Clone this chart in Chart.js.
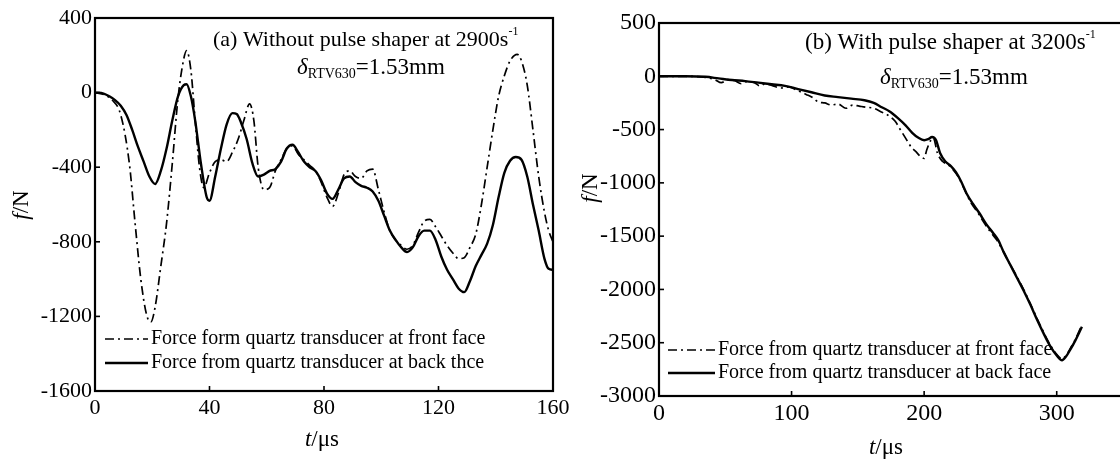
<!DOCTYPE html>
<html>
<head>
<meta charset="utf-8">
<script src="https://cdn.jsdelivr.net/npm/chart.js@4.4.1/dist/chart.umd.min.js"></script>
<style>
  html, body { margin: 0; padding: 0; background: #fff; overflow: hidden; }
  body { width: 1120px; height: 464px; position: relative; }
  canvas { position: absolute; top: 0; }
  #chartA { left: 0; }
  #chartB { left: 565px; }
</style>
</head>
<body>
<canvas id="chartA" width="590" height="464"></canvas>
<canvas id="chartB" width="572" height="464"></canvas>
<script>
// (a) without pulse shaper, t in us, f in N
const aFrontT = [0, 3, 6, 9, 12, 14, 16, 18, 19.5, 21, 23, 25, 27, 29, 31, 32, 33.5, 35, 36.5, 38, 40, 42, 44, 46, 48, 50, 52, 54, 55.5, 57, 59, 61, 63, 65, 67, 69, 71, 73, 75, 77, 79, 81, 83, 85, 87, 89, 91, 93, 95, 97, 99, 101, 103, 105, 107, 109, 111, 113, 115, 117, 119, 121, 123, 125, 127, 129, 131, 133, 135, 137, 139, 141, 143, 145, 147.5, 149, 151, 153, 155, 157, 158.5, 160];
const aFrontF = [0, -10, -40, -120, -380, -700, -1000, -1190, -1230, -1150, -930, -700, -380, -30, 180, 225, 120, -150, -400, -510, -430, -370, -360, -370, -320, -250, -150, -60, -150, -400, -520, -510, -420, -360, -300, -285, -330, -360, -390, -420, -480, -560, -610, -540, -440, -420, -450, -460, -420, -410, -520, -640, -740, -790, -820, -840, -820, -750, -690, -680, -720, -770, -820, -860, -890, -885, -830, -760, -600, -400, -200, -20, 90, 170, 205, 170, 40, -200, -450, -640, -740, -800];
const aBackT = [0, 3, 5, 7, 9, 11, 13, 15, 17, 19, 21, 23, 25, 27, 29, 31, 32, 33.5, 35, 37, 39, 40, 42, 44, 46, 48, 49.5, 51, 53, 55, 57, 59, 61, 63, 65, 67, 69, 71, 73, 75, 77, 79, 81, 83, 85, 87, 89, 91, 93, 95, 97, 99, 101, 103, 105, 107, 109, 111, 113, 115, 117, 119, 121, 123, 125, 127, 129, 131, 133, 135, 137, 139, 141, 143, 145, 147, 149, 151, 153, 155, 157, 158.5, 160];
const aBackF = [0, -5, -20, -40, -70, -120, -200, -290, -370, -450, -490, -420, -300, -150, -20, 40, 45, -20, -150, -380, -560, -580, -450, -300, -170, -110, -115, -160, -250, -380, -450, -440, -420, -410, -370, -300, -280, -320, -370, -400, -420, -470, -540, -570, -520, -460, -450, -480, -500, -510, -530, -580, -660, -740, -790, -830, -855, -830, -770, -740, -740, -790, -880, -950, -1000, -1050, -1070, -1010, -930, -870, -810, -710, -560, -430, -365, -345, -360, -450, -600, -740, -890, -945, -950];
const aXTicks = [0, 40, 80, 120, 160];
const aYTicks = [400, 0, -400, -800, -1200, -1600];
const aLegend = ['Force form quartz transducer at front face', 'Force from quartz transducer at back thce'];

// (b) with pulse shaper
const bFrontT = [0, 20, 35, 42, 47, 52, 57, 62, 66, 72, 76, 80, 86, 92, 98, 104, 111, 116, 120, 125, 130, 135, 141, 146, 151, 156, 162, 167, 172, 178, 182, 186, 190, 194, 197, 200, 202, 205, 207, 210, 214, 218, 222, 226, 230, 235, 240, 245, 250, 255, 260, 265, 270, 275, 280, 285, 290, 295, 300, 304, 307, 310, 314, 318];
const bFrontF = [0, 0, -10, -30, -60, -30, -40, -70, -50, -60, -90, -70, -90, -110, -100, -130, -170, -200, -240, -250, -270, -260, -300, -270, -280, -290, -300, -330, -360, -420, -500, -580, -660, -710, -750, -770, -690, -600, -580, -720, -800, -830, -880, -950, -1050, -1180, -1270, -1370, -1460, -1540, -1650, -1770, -1880, -2000, -2130, -2270, -2400, -2520, -2610, -2650, -2620, -2560, -2470, -2360];
const bBackT = [0, 20, 35, 45, 55, 65, 75, 85, 95, 105, 115, 125, 135, 145, 155, 162, 168, 174, 180, 186, 191, 196, 200, 203, 206, 209, 212, 216, 220, 224, 228, 232, 237, 242, 247, 252, 256, 260, 265, 270, 275, 280, 285, 290, 295, 300, 304, 307, 310, 314, 319];
const bBackF = [0, 0, -5, -20, -35, -45, -60, -75, -90, -120, -150, -180, -195, -210, -225, -250, -290, -330, -390, -460, -530, -580, -600, -590, -570, -600, -720, -800, -840, -900, -990, -1100, -1200, -1290, -1390, -1470, -1540, -1650, -1770, -1890, -2010, -2140, -2280, -2410, -2530, -2620, -2665, -2630, -2570, -2480, -2350];
const bXTicks = [0, 100, 200, 300];
const bYTicks = [500, 0, -500, -1000, -1500, -2000, -2500, -3000];
const bLegend = ['Force from quartz transducer at front face', 'Force from quartz transducer at back face'];

const FONT = "'Liberation Serif', 'Times New Roman', serif";

function pts(ts, fs) {
    return ts.map((t, i) => ({ x: t, y: fs[i] }));
}

function partsWidth(ctx, parts) {
    let w = 0;
    parts.forEach(p => {
        ctx.font = (p.italic ? 'italic ' : '') + p.size + 'px ' + FONT;
        w += ctx.measureText(p.text).width;
    });
    return w;
}

function richText(ctx, x, y, parts) {
    let cx = x;
    parts.forEach(p => {
        ctx.font = (p.italic ? 'italic ' : '') + p.size + 'px ' + FONT;
        ctx.fillText(p.text, cx, y + (p.dy || 0));
        cx += ctx.measureText(p.text).width;
    });
}

function seg(ctx, x1, y1, x2, y2) {
    ctx.beginPath();
    ctx.moveTo(x1, y1);
    ctx.lineTo(x2, y2);
    ctx.stroke();
}

// box, inward ticks, inner titles, legend and axis titles
const framePlugin = {
    id: 'frame',
    afterDraw(chart, args, opts) {
        const { ctx, chartArea: a, scales } = chart;
        ctx.save();
        ctx.strokeStyle = '#000';
        ctx.fillStyle = '#000';
        ctx.lineWidth = 2.2;
        ctx.strokeRect(a.left, a.top, a.right - a.left, a.bottom - a.top);

        ctx.lineWidth = 1.6;
        scales.x.ticks.forEach(tk => {
            const px = scales.x.getPixelForValue(tk.value);
            seg(ctx, px, a.bottom, px, a.bottom - 5);
        });
        scales.y.ticks.forEach(tk => {
            const py = scales.y.getPixelForValue(tk.value);
            seg(ctx, a.left, py, a.left + 5, py);
        });

        ctx.textBaseline = 'middle';
        ctx.textAlign = 'left';
        opts.lines.forEach(l => richText(ctx, a.left + l.dx, l.y, l.parts));

        chart.data.datasets.forEach((ds, i) => {
            const y = opts.legendY + i * opts.legendGap;
            ctx.setLineDash(ds.borderDash || []);
            ctx.lineWidth = ds.borderWidth;
            seg(ctx, opts.legendX, y, opts.legendX + opts.legendLen, y);
            ctx.setLineDash([]);
            ctx.font = '20px ' + FONT;
            ctx.fillText(ds.label, opts.legendX + opts.legendLen + 3, y);
        });

        const xt = [{ text: 't', size: 23, italic: true }, { text: '/μs', size: 23 }];
        richText(ctx, opts.xTitle[0] - partsWidth(ctx, xt) / 2, opts.xTitle[1], xt);

        const yt = [{ text: 'f', size: 23, italic: true }, { text: '/N', size: 23 }];
        ctx.translate(opts.yTitle[0], opts.yTitle[1]);
        ctx.rotate(-Math.PI / 2);
        richText(ctx, -partsWidth(ctx, yt) / 2, 0, yt);
        ctx.restore();
    }
};

function makeChart(id, cfg) {
    const ctx = document.getElementById(id).getContext('2d');
    return new Chart(ctx, {
        type: 'line',
        data: {
            datasets: [{
                label: cfg.legend[0],
                data: pts(cfg.frontT, cfg.frontF),
                borderColor: '#000',
                borderWidth: 1.7,
                borderDash: [9, 4, 2, 4],
                cubicInterpolationMode: 'monotone',
                pointRadius: 0,
                fill: false
            }, {
                label: cfg.legend[1],
                data: pts(cfg.backT, cfg.backF),
                borderColor: '#000',
                borderWidth: 2.4,
                cubicInterpolationMode: 'monotone',
                pointRadius: 0,
                fill: false
            }]
        },
        options: {
            responsive: false,
            animation: false,
            layout: { padding: { top: cfg.top, right: cfg.right, left: 0, bottom: 0 } },
            plugins: {
                legend: { display: false },
                tooltip: { enabled: false },
                frame: cfg.frame
            },
            scales: {
                x: {
                    type: 'linear',
                    min: cfg.xMin,
                    max: cfg.xMax,
                    afterBuildTicks: s => { s.ticks = cfg.xTicks.map(v => ({ value: v })); },
                    afterFit: s => { s.height = cfg.xHeight; },
                    grid: { display: false, drawTicks: false },
                    border: { display: false },
                    ticks: {
                        padding: cfg.xPad, color: '#000', maxRotation: 0, autoSkip: false,
                        font: { family: FONT, size: cfg.tickSize },
                        callback: v => String(v)
                    }
                },
                y: {
                    min: cfg.yMin,
                    max: cfg.yMax,
                    afterBuildTicks: s => { s.ticks = cfg.yTicks.map(v => ({ value: v })); },
                    afterFit: s => { s.width = cfg.yWidth; },
                    grid: { display: false, drawTicks: false },
                    border: { display: false },
                    ticks: {
                        padding: 3, color: '#000', autoSkip: false,
                        font: { family: FONT, size: cfg.tickSize },
                        callback: v => String(v)
                    }
                }
            }
        },
        plugins: [framePlugin]
    });
}

makeChart('chartA', {
    frontT: aFrontT, frontF: aFrontF, backT: aBackT, backF: aBackF, legend: aLegend,
    xTicks: aXTicks, yTicks: aYTicks, xMin: 0, xMax: 160, yMin: -1600, yMax: 400,
    top: 18, right: 37, xHeight: 73, yWidth: 95, xPad: 4, tickSize: 22,
    frame: {
        lines: [
            { dx: 118, y: 40, parts: [{ text: '(a) Without pulse shaper at 2900s', size: 22 }, { text: '-1', size: 12, dy: -8 }] },
            { dx: 202, y: 68, parts: [{ text: 'δ', size: 23, italic: true }, { text: 'RTV630', size: 14, dy: 6 }, { text: '=1.53mm', size: 23 }] }
        ],
        legendX: 105, legendLen: 43, legendY: 339, legendGap: 24,
        xTitle: [322, 440], yTitle: [22, 205]
    }
});

makeChart('chartB', {
    frontT: bFrontT, frontF: bFrontF, backT: bBackT, backF: bBackF, legend: bLegend,
    xTicks: bXTicks, yTicks: bYTicks, xMin: 0, xMax: 350, yMin: -3000, yMax: 500,
    top: 23, right: 14, xHeight: 68, yWidth: 94, xPad: 3, tickSize: 24,
    frame: {
        lines: [
            { dx: 146, y: 43, parts: [{ text: '(b) With pulse shaper at 3200s', size: 23 }, { text: '-1', size: 12, dy: -8 }] },
            { dx: 221, y: 78, parts: [{ text: 'δ', size: 23, italic: true }, { text: 'RTV630', size: 14, dy: 6 }, { text: '=1.53mm', size: 23 }] }
        ],
        legendX: 103, legendLen: 47, legendY: 350, legendGap: 23,
        xTitle: [321, 448], yTitle: [26, 188]
    }
});
</script>
</body>
</html>
